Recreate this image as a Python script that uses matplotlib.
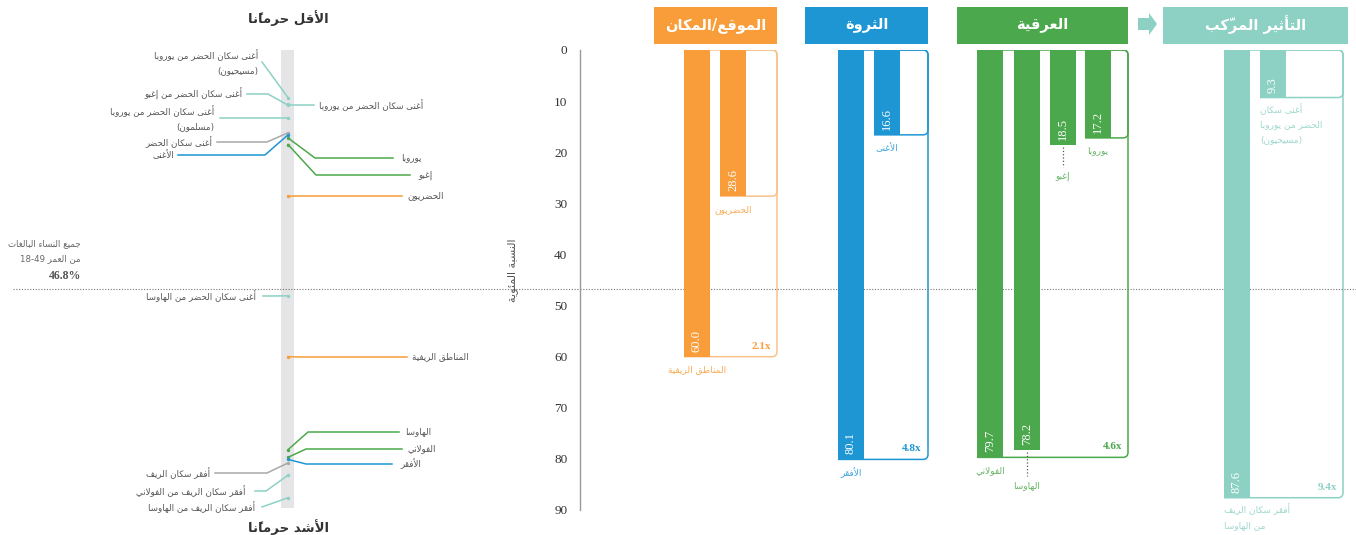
import matplotlib
matplotlib.use('Agg')
import matplotlib.pyplot as plt
from matplotlib.path import Path
from matplotlib.patches import PathPatch, Rectangle, Polygon

plt.rcParams['font.family'] = ['DejaVu Sans']
SERIF = 'Liberation Serif'

# ---------------- data ----------------
group_titles = ['الموقع/المكان', 'الثروة', 'العرقية', 'التأثير المركّب']
group_keys = ['location', 'wealth', 'ethnicity', 'combined']
group_values = [[60.0, 28.6], [80.1, 16.6], [79.7, 78.2, 18.5, 17.2], [87.6, 9.3]]
group_bar_labels = [['المناطق الريفية', 'الحضريون'],
                    ['الأفقر', 'الأغنى'],
                    ['الفولاني', 'الهاوسا', 'إغبو', 'يوروبا'],
                    ['أفقر سكان الريف\nمن الهاوسا', 'أغنى سكان\nالحضر من يوروبا\n(مسيحيون)']]
group_ratios = ['2.1x', '4.8x', '4.6x', '9.4x']
national_avg = 46.8

left_labels = ['أغنى سكان الحضر من يوروبا\n(مسيحيون)',
               'أغنى سكان الحضر من إغبو',
               'أغنى سكان الحضر من يوروبا',
               'أغنى سكان الحضر من يوروبا\n(مسلمون)',
               'أغنى سكان الحضر',
               'الأغنى',
               'يوروبا',
               'إغبو',
               'الحضريون',
               'أغنى سكان الحضر من الهاوسا',
               'المناطق الريفية',
               'الهاوسا',
               'الفولاني',
               'الأفقر',
               'أفقر سكان الريف',
               'أفقر سكان الريف من الفولاني',
               'أفقر سكان الريف من الهاوسا']
left_values = [9.3, 10.8, 10.6, 13.3, 16.2, 16.6, 17.2, 18.5, 28.6, 48.1,
               60.0, 78.2, 79.7, 80.1, 80.8, 83.2, 87.6]
left_kinds = ['combined', 'combined', 'combined', 'combined', 'overall', 'wealth',
              'ethnicity', 'ethnicity', 'location', 'combined', 'location',
              'ethnicity', 'ethnicity', 'wealth', 'overall', 'combined', 'combined']

COLORS = {'location': '#F89D3A', 'wealth': '#1E96D3', 'ethnicity': '#4CA84C',
          'combined': '#8DD1C5', 'overall': '#A8A8A8'}

# ---------------- arabic shaping (matplotlib has no bidi/shaping) ----------------
_letters = [('ء', 0xFE80, 1), ('آ', 0xFE81, 2), ('أ', 0xFE83, 2), ('ؤ', 0xFE85, 2),
            ('إ', 0xFE87, 2), ('ئ', 0xFE89, 4), ('ا', 0xFE8D, 2), ('ب', 0xFE8F, 4),
            ('ة', 0xFE93, 2), ('ت', 0xFE95, 4), ('ث', 0xFE99, 4), ('ج', 0xFE9D, 4),
            ('ح', 0xFEA1, 4), ('خ', 0xFEA5, 4), ('د', 0xFEA9, 2), ('ذ', 0xFEAB, 2),
            ('ر', 0xFEAD, 2), ('ز', 0xFEAF, 2), ('س', 0xFEB1, 4), ('ش', 0xFEB5, 4),
            ('ص', 0xFEB9, 4), ('ض', 0xFEBD, 4), ('ط', 0xFEC1, 4), ('ظ', 0xFEC5, 4),
            ('ع', 0xFEC9, 4), ('غ', 0xFECD, 4), ('ف', 0xFED1, 4), ('ق', 0xFED5, 4),
            ('ك', 0xFED9, 4), ('ل', 0xFEDD, 4), ('م', 0xFEE1, 4), ('ن', 0xFEE5, 4),
            ('ه', 0xFEE9, 4), ('و', 0xFEED, 2), ('ى', 0xFEEF, 2), ('ي', 0xFEF1, 4)]
FORMS = {c: tuple(chr(s + k) for k in range(n)) for c, s, n in _letters}
LAM_ALEF = {'آ': ('\uFEF5', '\uFEF6'), 'أ': ('\uFEF7', '\uFEF8'),
            'إ': ('\uFEF9', '\uFEFA'), 'ا': ('\uFEFB', '\uFEFC')}
MARKS = set(chr(c) for c in range(0x064B, 0x0653)) | {'\u0670'}
MIRROR = {'(': ')', ')': '('}
LTR = set('0123456789.-%x')


def _joins(c):
    return c in FORMS and len(FORMS[c]) > 1


def _dual(c):
    return c in FORMS and len(FORMS[c]) == 4


def _visual(line):
    cl = []
    for ch in line:
        if ch in MARKS and cl:
            cl[-1] += ch
        else:
            cl.append(ch)
    shaped = []
    i = 0
    while i < len(cl):
        base, marks = cl[i][0], cl[i][1:]
        prv = cl[i - 1][0] if i > 0 else ''
        nxt = cl[i + 1][0] if i + 1 < len(cl) else ''
        cp = _dual(prv) and _joins(base)
        if base == 'ل' and nxt in LAM_ALEF:
            shaped.append(LAM_ALEF[nxt][1 if cp else 0] + marks + cl[i + 1][1:])
            i += 2
            continue
        if base in FORMS:
            f = FORMS[base]
            cn = _dual(base) and _joins(nxt)
            g = f[3] if (cp and cn) else f[1] if cp else f[2] if cn else f[0]
            shaped.append(g + marks)
        else:
            shaped.append(base + marks)
        i += 1
    runs = []
    for c in shaped:
        ltr = c[0] in LTR
        if runs and runs[-1][0] == ltr:
            runs[-1][1].append(c)
        else:
            runs.append([ltr, [c]])
    out = []
    for ltr, cs in reversed(runs):
        out.append(''.join(cs) if ltr else ''.join(MIRROR.get(c, c) for c in reversed(cs)))
    return ''.join(out)


def ar(text):
    return '\n'.join(_visual(l) for l in text.split('\n'))


# ---------------- layout ----------------
W, H = 1356, 535
TOP, BOT = 50, 510
PX = (BOT - TOP) / 90.0


def py(p):
    return (p - TOP) / PX


fig = plt.figure(figsize=(W / 100, H / 100), dpi=100)
axl = fig.add_axes([0, (H - BOT) / H, 580 / W, (BOT - TOP) / H])
axr = fig.add_axes([580 / W, (H - BOT) / H, (W - 580) / W, (BOT - TOP) / H], sharey=axl)
axl.set_xlim(0, 580)
axr.set_xlim(580, W)
axl.set_ylim(90, 0)

# ---------------- right: bars ----------------
bar_w = 26
bar_lefts = [[684, 720], [838, 874], [977, 1014, 1050, 1085], [1224, 1260]]
header_x = [(654, 777), (805, 928), (957, 1128), (1163, 1348)]
box_right = [777, 928, 1128, 1343]
rx, ry = 5, 5 / PX


def open_box(x_start, x1, ybot):
    verts = [(x_start, ybot), (x1 - rx, ybot), (x1, ybot), (x1, ybot - ry),
             (x1, ry), (x1, 0), (x1 - rx, 0), (x_start, 0)]
    codes = [Path.MOVETO, Path.LINETO, Path.CURVE3, Path.CURVE3,
             Path.LINETO, Path.CURVE3, Path.CURVE3, Path.LINETO]
    return Path(verts, codes)


for g, key in enumerate(group_keys):
    c = COLORS[key]
    vals = group_values[g]
    lefts = bar_lefts[g]
    xr = box_right[g]
    ec = c if key != 'location' else '#F9C28A'
    axr.add_patch(PathPatch(open_box(lefts[0], xr, max(vals)), fill=False, ec=ec, lw=1.1))
    axr.add_patch(PathPatch(open_box(lefts[-1], xr, min(vals)), fill=False, ec=ec, lw=1.1))
    axr.bar(lefts, vals, width=bar_w, align='edge', color=c, lw=0, zorder=3)
    for x, v in zip(lefts, vals):
        axr.text(x + bar_w / 2, v - 5 / PX, f'{v:.1f}', rotation=90, ha='center', va='bottom',
                 color='white', fontsize=9, family=SERIF, zorder=4)
    axr.text(xr - 6, max(vals) - 6 / PX, group_ratios[g], ha='right', va='bottom',
             color=c, fontsize=8, family=SERIF, fontweight='bold')
    hx0, hx1 = header_x[g]
    axr.add_patch(Rectangle((hx0, py(7)), hx1 - hx0, py(44) - py(7), color=c, lw=0, clip_on=False))
    axr.text((hx0 + hx1) / 2, py(25), ar(group_titles[g]), ha='center', va='center',
             color='white', fontsize=10.5, fontweight='bold')

# category labels under bars
lab_style = dict(fontsize=6.5, alpha=0.85)
for g, key in enumerate(group_keys):
    c = COLORS[key]
    for j, (x, v, lab) in enumerate(zip(bar_lefts[g], group_values[g], group_bar_labels[g])):
        cx = x + bar_w / 2
        if key == 'combined':
            axr.text(x, v + 6 / PX, ar(lab), ha='left', va='top', color=c,
                     linespacing=1.75, multialignment='left', **lab_style)
        elif key == 'ethnicity' and j in (1, 2):
            drop = 32 if j == 2 else 36
            axr.plot([cx, cx], [v + 2 / PX, v + (drop - 10) / PX], ls=':', color='#555', lw=0.9)
            axr.text(cx, v + drop / PX, ar(lab), ha='center', va='center', color=c, **lab_style)
        else:
            axr.text(cx, v + 13 / PX, ar(lab), ha='center', va='center', color=c, **lab_style)

# arrow between ethnicity and combined
arrow = [(1138, 18), (1149, 18), (1149, 13), (1157, 24), (1149, 35), (1149, 30), (1138, 30)]
axr.add_patch(Polygon([(x, py(y)) for x, y in arrow], color=COLORS['combined'], lw=0, clip_on=False))

axr.set_yticks(range(0, 100, 10))
axr.tick_params(axis='y', length=0, pad=9, labelsize=9.5, labelcolor='#333')
for t in axr.get_yticklabels():
    t.set_family(SERIF)
axr.tick_params(axis='x', bottom=False, labelbottom=False)
for s in ['top', 'right', 'bottom']:
    axr.spines[s].set_visible(False)
axr.spines['left'].set_color('#999')
axr.spines['left'].set_linewidth(1)
axr.text(513, py(270), ar('النسبة المئوية'), rotation=90, ha='center', va='center',
         fontsize=8, color='#555')
axr.axhline(national_avg, color='#777', ls=(0, (1, 1.5)), lw=0.8, zorder=1)

# ---------------- left: distribution strip ----------------
axl.axis('off')
DOT_X = 288
axl.add_patch(Rectangle((281, py(49)), 13, py(508) - py(49), color='#E5E5E7', lw=0, zorder=0))
axl.plot([13, 580], [national_avg] * 2, color='#777', ls=(0, (1, 1.5)), lw=0.8, zorder=1)

# side, label y (px), text x, line end x, elbow x
left_layout = [('left', 62, 258, 262, 262),
               ('left', 94, 242, 247, 268),
               ('right', 105, 319, 314, DOT_X),
               ('left', 118, 214, 220, 270),
               ('left', 142, 212, 217, 267),
               ('left', 155, 174, 178, 265),
               ('right', 158, 401, 393, 315),
               ('right', 175, 418, 410, 316),
               ('right', 196, 407, 402, 300),
               ('left', 296, 256, 263, 270),
               ('right', 357, 412, 407, 300),
               ('right', 432, 405, 399, 308),
               ('right', 449, 408, 402, 306),
               ('right', 464, 400, 392, 306),
               ('left', 473, 210, 215, 267),
               ('left', 491, 246, 255, 266),
               ('left', 507, 255, 262, 262)]

for lab, v, kind, (side, ly, tx, lx, ex) in zip(left_labels, left_values, left_kinds, left_layout):
    c = COLORS[kind]
    axl.plot([DOT_X, ex, lx], [v, py(ly), py(ly)], color=c, lw=1.1, zorder=2)
    axl.scatter([DOT_X], [v], s=6, color=c, zorder=3, lw=0)
    axl.text(tx, py(ly), ar(lab), ha='right' if side == 'left' else 'left', va='center',
             fontsize=6.3, color='#555', linespacing=1.75,
             multialignment='right' if side == 'left' else 'left')

axl.text(288, py(18), ar('الأقل حرمانًا'), ha='center', va='center', fontsize=9.5,
         fontweight='bold', color='#333')
axl.text(288, py(527), ar('الأشد حرمانًا'), ha='center', va='center', fontsize=9.5,
         fontweight='bold', color='#333')
axl.text(81, py(251), ar('جميع النساء البالغات\nمن العمر 18-49'), ha='right', va='center',
         fontsize=6.2, color='#666', linespacing=1.9, multialignment='right')
axl.text(81, py(276), f'{national_avg}%', ha='right', va='center', fontsize=8.5,
         family=SERIF, fontweight='bold', color='#555')

fig.savefig('out.png', dpi=100)
